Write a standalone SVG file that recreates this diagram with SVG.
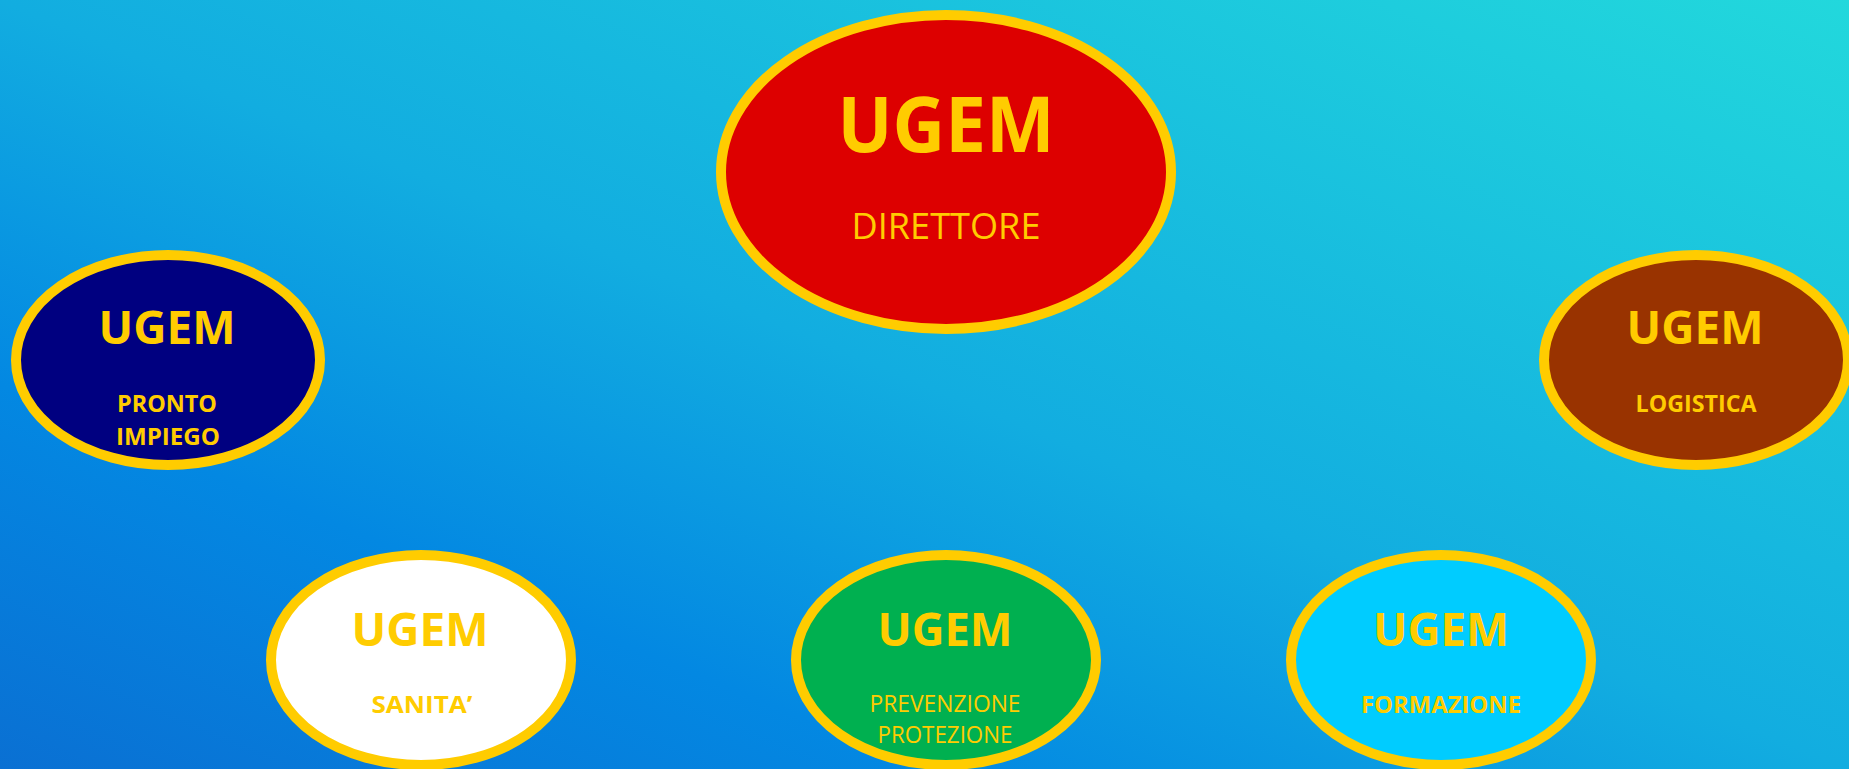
<svg xmlns="http://www.w3.org/2000/svg" width="1849" height="769" viewBox="0 0 1849 769">
  <defs>
    <linearGradient id="bg" gradientUnits="userSpaceOnUse" x1="652" y1="1040" x2="1197" y2="-271">
      <stop offset="0" stop-color="#0a70d3"/>
      <stop offset="0.25" stop-color="#0388e2"/>
      <stop offset="0.5" stop-color="#12ade0"/>
      <stop offset="1" stop-color="#22d8dc"/>
    </linearGradient>
  </defs>
  <style>
    .node ellipse { stroke: #ffcc00; stroke-width: 10; }
    text { fill: #ffcc00; font-family: "Open Sans", "Liberation Sans", sans-serif; text-anchor: middle; }
    .big { font-weight: bold; font-size: 77px; }
    .title { font-weight: bold; font-size: 47px; }
    .sub { font-size: 36px; }
    .lblb { font-weight: bold; font-size: 24px; }
    .lbl { font-size: 24px; }
  </style>
  <rect x="0" y="0" width="1849" height="769" fill="url(#bg)"/>
  <g id="connectors"></g>
  <g id="direttore" class="node">
    <ellipse cx="946" cy="172" rx="225" ry="157" fill="#dd0000"/>
    <text class="big" x="946" y="152" textLength="217" lengthAdjust="spacingAndGlyphs">UGEM</text>
    <text class="sub" x="946" y="239" textLength="189" lengthAdjust="spacingAndGlyphs">DIRETTORE</text>
  </g>
  <g id="pronto-impiego" class="node">
    <ellipse cx="168" cy="360" rx="152" ry="105" fill="#000080"/>
    <text class="title" x="167" y="344" textLength="137" lengthAdjust="spacingAndGlyphs">UGEM</text>
    <text class="lblb" x="167" y="412" textLength="100" lengthAdjust="spacingAndGlyphs">PRONTO</text>
    <text class="lblb" x="168" y="445" textLength="104" lengthAdjust="spacingAndGlyphs">IMPIEGO</text>
  </g>
  <g id="logistica" class="node">
    <ellipse cx="1696" cy="360" rx="152" ry="105" fill="#993300"/>
    <text class="title" x="1695" y="344" textLength="137" lengthAdjust="spacingAndGlyphs">UGEM</text>
    <text class="lblb" x="1696" y="412" textLength="121" lengthAdjust="spacingAndGlyphs">LOGISTICA</text>
  </g>
  <g id="sanita" class="node">
    <ellipse cx="421" cy="660" rx="150" ry="105" fill="#ffffff"/>
    <text class="title" x="420" y="646" textLength="137" lengthAdjust="spacingAndGlyphs">UGEM</text>
    <text class="lblb" x="422" y="713" textLength="101" lengthAdjust="spacingAndGlyphs">SANITA’</text>
  </g>
  <g id="prevenzione-protezione" class="node">
    <ellipse cx="946" cy="660" rx="150" ry="105" fill="#00b050"/>
    <text class="title" x="945" y="646" textLength="135" lengthAdjust="spacingAndGlyphs">UGEM</text>
    <text class="lbl" x="945" y="712" textLength="151" lengthAdjust="spacingAndGlyphs">PREVENZIONE</text>
    <text class="lbl" x="945" y="743" textLength="135" lengthAdjust="spacingAndGlyphs">PROTEZIONE</text>
  </g>
  <g id="formazione" class="node">
    <ellipse cx="1441" cy="660" rx="150" ry="105" fill="#00ccff"/>
    <text class="title" x="1441" y="646" textLength="136" lengthAdjust="spacingAndGlyphs">UGEM</text>
    <text class="lblb" x="1441" y="713" textLength="160" lengthAdjust="spacingAndGlyphs">FORMAZIONE</text>
  </g>
</svg>
